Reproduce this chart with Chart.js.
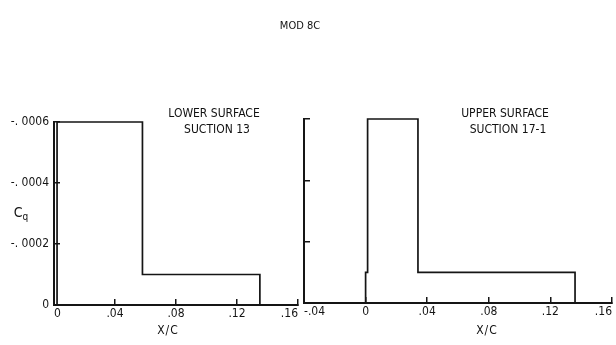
<!DOCTYPE html>
<html>
<head>
<meta charset="utf-8">
<script src="https://cdn.jsdelivr.net/npm/chart.js@4"></script>
<style>
body { margin: 0; background: #fff; }
#wrap { position: relative; width: 616px; height: 345px; overflow: hidden; font-family: "DejaVu Sans Condensed", "Liberation Sans Narrow", sans-serif; color: #111; }
canvas { position: absolute; top: 0; }
.lbl { position: absolute; transform: translate(-50%, -50%); white-space: nowrap; font-size: 12px; }
</style>
</head>
<body>
<div id="wrap">
  <canvas id="lower" width="302" height="345" style="left:0"></canvas>
  <canvas id="upper" width="320" height="345" style="left:300px"></canvas>
  <div class="lbl" style="left:300px;top:25px;font-size:11px">MOD 8C</div>
  <div class="lbl" style="left:214px;top:113px">LOWER SURFACE</div>
  <div class="lbl" style="left:217px;top:129px">SUCTION 13</div>
  <div class="lbl" style="left:505px;top:113px">UPPER SURFACE</div>
  <div class="lbl" style="left:508px;top:129px">SUCTION 17-1</div>
  <div class="lbl" style="left:21px;top:213px;font-size:14px">C<sub style="font-size:10px">q</sub></div>
  <div class="lbl" style="left:168px;top:330px;letter-spacing:1px">X/C</div>
  <div class="lbl" style="left:487px;top:330px;letter-spacing:1px">X/C</div>
</div>
<script>
// step edges (x/c) and suction coefficient on each step
const lowerX = [0, 0.002, 0.058, 0.135, 0.16];
const lowerCq = [0, -0.0006, -0.0001, 0, 0];
const upperX = [-0.04, 0, 0.0013, 0.034, 0.136, 0.16];
const upperCq = [0, -0.0001, -0.0006, -0.0001, 0, 0];

const lowerXTicks = [0, 0.04, 0.08, 0.12, 0.16];
const lowerXLabels = ['0', '.04', '.08', '.12', '.16'];
const upperXTicks = [-0.04, 0, 0.04, 0.08, 0.12, 0.16];
const upperXLabels = ['-.04', '0', '.04', '.08', '.12', '.16'];
const cqTicks = [-0.0006, -0.0004, -0.0002, 0];
const cqLabels = ['-. 0006', '-. 0004', '-. 0002', '0'];

const ink = '#151515';
const tickFont = { family: '"DejaVu Sans Condensed", "Liberation Sans Narrow", sans-serif', size: 12 };

function makePanel(id, xs, ys, xTicks, xLabels, opts) {
    return new Chart(document.getElementById(id), {
        type: 'line',
        data: {
            datasets: [{
                data: xs.map((x, i) => ({ x: x, y: ys[i] })),
                borderColor: ink,
                borderWidth: 1.7,
                pointRadius: 0,
                stepped: 'before',
                fill: false,
                clip: 4
            }]
        },
        options: {
            responsive: false,
            animation: false,
            layout: { padding: opts.padding },
            plugins: { legend: { display: false }, tooltip: { enabled: false } },
            scales: {
                x: {
                    type: 'linear',
                    min: xTicks[0],
                    max: xTicks[xTicks.length - 1],
                    afterBuildTicks: s => { s.ticks = xTicks.map(v => ({ value: v })); },
                    afterFit: s => { s.height = opts.xHeight; s.paddingLeft = 0; s.paddingRight = 0; },
                    border: { display: true, color: ink, width: 2 },
                    grid: { drawOnChartArea: false, tickLength: -6, color: ink, lineWidth: 1.5 },
                    ticks: {
                        align: 'inner',
                        maxRotation: 0,
                        autoSkip: false,
                        padding: 8,
                        color: ink,
                        font: tickFont,
                        callback: (v, i) => xLabels[i]
                    }
                },
                y: {
                    type: 'linear',
                    reverse: true,
                    min: cqTicks[0],
                    max: cqTicks[cqTicks.length - 1],
                    afterBuildTicks: s => { s.ticks = cqTicks.map(v => ({ value: v })); },
                    afterFit: s => { s.width = opts.yWidth; s.paddingTop = 0; s.paddingBottom = 0; },
                    border: { display: true, color: ink, width: 2 },
                    grid: { drawOnChartArea: false, tickLength: -6, color: ink, lineWidth: 1.5 },
                    ticks: {
                        display: opts.yLabels,
                        padding: 11,
                        color: ink,
                        font: tickFont,
                        callback: (v, i) => cqLabels[i]
                    }
                }
            }
        }
    });
}

makePanel('lower', lowerX, lowerCq, lowerXTicks, lowerXLabels, {
    padding: { top: 122, right: 4, left: 0, bottom: 0 }, xHeight: 40, yWidth: 54, yLabels: true
});
makePanel('upper', upperX, upperCq, upperXTicks, upperXLabels, {
    padding: { top: 119, right: 8, left: 0, bottom: 0 }, xHeight: 42, yWidth: 4, yLabels: false
});
</script>
</body>
</html>
